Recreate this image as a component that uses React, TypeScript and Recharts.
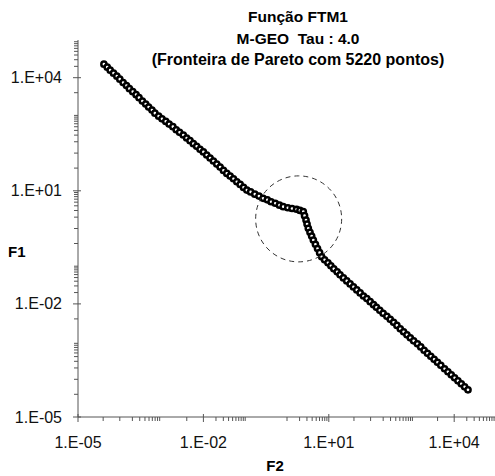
import React from "react";
import { ScatterChart, Scatter, XAxis, YAxis, ReferenceDot } from "recharts";

// Pareto front points as log10 values
const f2Log = [
  -4.38, -4.3, -4.23, -4.15, -4.07, -4.0, -3.92, -3.84, -3.77, -3.69, -3.61, -3.54, -3.46, -3.38, -3.31, -3.23, -3.16,
  -3.07, -2.99, -2.9, -2.82, -2.73, -2.65, -2.57, -2.48,
  -2.4, -2.32, -2.24, -2.16, -2.08, -2.0, -1.92,
  -1.84, -1.76, -1.68, -1.6, -1.52, -1.44,
  -1.36, -1.28, -1.2, -1.12, -1.04, -0.96,
  -0.87, -0.77, -0.67, -0.57,
  -0.47, -0.38, -0.28, -0.18, -0.09,
  0.02, 0.12, 0.23,
  0.31, 0.39,
  0.42, 0.455,
  0.48, 0.51,
  0.55, 0.59, 0.63,
  0.68, 0.73, 0.78, 0.83,
  0.9, 0.98, 1.05, 1.12, 1.2, 1.27,
  1.35, 1.43, 1.51, 1.59, 1.67,
  1.75, 1.83, 1.91, 1.99, 2.07, 2.14, 2.22, 2.3,
  2.39, 2.47, 2.55, 2.63, 2.71, 2.79, 2.87, 2.95, 3.03, 3.12, 3.2, 3.28, 3.36, 3.44, 3.52, 3.6, 3.68, 3.77, 3.85,
  3.93, 4.01, 4.09, 4.17, 4.25, 4.33
];

const f1Log = [
  4.36, 4.28, 4.2, 4.12, 4.04, 3.96, 3.87, 3.79, 3.71, 3.63, 3.55, 3.47, 3.38, 3.3, 3.22, 3.14, 3.06,
  2.98, 2.91, 2.84, 2.77, 2.7, 2.62, 2.55, 2.48,
  2.4, 2.33, 2.25, 2.18, 2.1, 2.03, 1.95,
  1.87, 1.79, 1.71, 1.63, 1.54, 1.46,
  1.39, 1.32, 1.24, 1.17, 1.09, 1.02,
  0.97, 0.91, 0.86, 0.8,
  0.76, 0.71, 0.67, 0.62, 0.58,
  0.55, 0.53, 0.51,
  0.48, 0.45,
  0.34, 0.225,
  0.12, 0.005,
  -0.1, -0.2, -0.305,
  -0.42, -0.53, -0.64, -0.75,
  -0.83, -0.91, -0.99, -1.07, -1.15, -1.23,
  -1.31, -1.39, -1.47, -1.55, -1.63,
  -1.71, -1.79, -1.86, -1.94, -2.02, -2.09, -2.17, -2.25,
  -2.33, -2.41, -2.49, -2.57, -2.66, -2.74, -2.82, -2.9, -2.98, -3.06, -3.14, -3.23, -3.31, -3.39, -3.47, -3.55,
  -3.63, -3.72, -3.8, -3.88, -3.96, -4.04, -4.12, -4.2, -4.28
];

const majorTicks = [1e-5, 1e-2, 1e1, 1e4];
const majorLabels = ["1.E-05", "1.E-02", "1.E+01", "1.E+04"];

const xMinorTicks = [
  4e-5, 1e-4, 2e-4, 3e-4, 4e-4, 5e-4, 6e-4, 7e-4, 8e-4, 9e-4,
  4e-3, 2e-2, 3e-2, 4e-2, 5e-2, 6e-2, 7e-2, 8e-2, 9e-2, 1e-1,
  1, 2, 3, 4, 5, 6, 7, 8, 9,
  40, 100, 200, 300, 400, 500, 600, 700, 800, 900, 1000,
  4e3, 2e4, 3e4, 4e4, 5e4, 6e4, 7e4, 8e4, 9e4
];
const yMinorTicks = [...xMinorTicks, 0.4];

// circled region of the knee
const knee = { f2: 1.9, f1: 1.8 };

const FONT = '"Liberation Sans", Arial, Helvetica, sans-serif';
const AXIS = "#555";

const points = f2Log.map((v, i) => ({ f2: Math.pow(10, v), f1: Math.pow(10, f1Log[i]) }));

const majorIndex = (v: number) => majorTicks.findIndex((m) => Math.abs(v - m) / m < 1e-6);

const XTick = (props: any) => {
  const { x, y, payload } = props;
  const i = majorIndex(payload.value);
  const major = i >= 0;
  return (
    <g>
      <line x1={x} x2={x} y1={major ? y - 3 : y} y2={y + (major ? 5 : 4)} stroke={AXIS} />
      {major && (
        <text x={x} y={y + 31} textAnchor="middle" fontSize={16} fontFamily={FONT} fill="#111">
          {majorLabels[i]}
        </text>
      )}
    </g>
  );
};

const YTick = (props: any) => {
  const { x, y, payload } = props;
  const i = majorIndex(payload.value);
  const major = i >= 0;
  return (
    <g>
      <line x1={x - (major ? 5 : 4)} x2={major ? x + 3 : x} y1={y} y2={y} stroke={AXIS} />
      {major && (
        <text x={x - 16} y={y + 5.5} textAnchor="end" fontSize={16} fontFamily={FONT} fill="#111">
          {majorLabels[i]}
        </text>
      )}
    </g>
  );
};

const Marker = (props: any) => (
  <circle cx={props.cx} cy={props.cy} r={2.6} fill="#fff" stroke="#000" strokeWidth={2.5} />
);

export default function App() {
  return (
    <div style={{ position: "absolute", left: 8, top: 8, width: 487, height: 468, overflow: "hidden" }}>
      <ScatterChart width={490} height={468} margin={{ top: 32, right: 2, bottom: 0, left: 0 }}>
        <XAxis
          dataKey="f2"
          type="number"
          scale="log"
          domain={[1e-5, 1e5]}
          allowDataOverflow
          ticks={[...majorTicks, ...xMinorTicks]}
          interval={0}
          tickSize={0}
          tickMargin={0}
          tick={<XTick />}
          tickLine={false}
          axisLine={{ stroke: AXIS }}
          height={59}
        />
        <YAxis
          dataKey="f1"
          type="number"
          scale="log"
          domain={[1e-5, 1e5]}
          allowDataOverflow
          ticks={[...majorTicks, ...yMinorTicks]}
          interval={0}
          tickSize={0}
          tickMargin={0}
          tick={<YTick />}
          tickLine={false}
          axisLine={{ stroke: AXIS }}
          width={70}
        />
        <Scatter data={points} shape={Marker} isAnimationActive={false} />
        <ReferenceDot
          x={knee.f2}
          y={knee.f1}
          r={43}
          fill="none"
          stroke="#333"
          strokeWidth={1}
          strokeDasharray="5 4"
        />
      </ScatterChart>
      <svg
        width={487}
        height={468}
        style={{ position: "absolute", left: 0, top: 0, pointerEvents: "none" }}
        fontFamily={FONT}
        fontWeight="bold"
        fill="#000"
      >
        <text x={290} y={13.5} textAnchor="middle" fontSize={15.5}>Função FTM1</text>
        <text x={290} y={36.3} textAnchor="middle" fontSize={15.5} style={{ whiteSpace: "pre" }}>
          {"M-GEO  Tau : 4.0"}
        </text>
        <text x={290} y={57} textAnchor="middle" fontSize={16}>(Fronteira de Pareto com 5220 pontos)</text>
        <text x={0} y={248.5} fontSize={15}>F1</text>
        <text x={267} y={462.7} textAnchor="middle" fontSize={15}>F2</text>
      </svg>
    </div>
  );
}
